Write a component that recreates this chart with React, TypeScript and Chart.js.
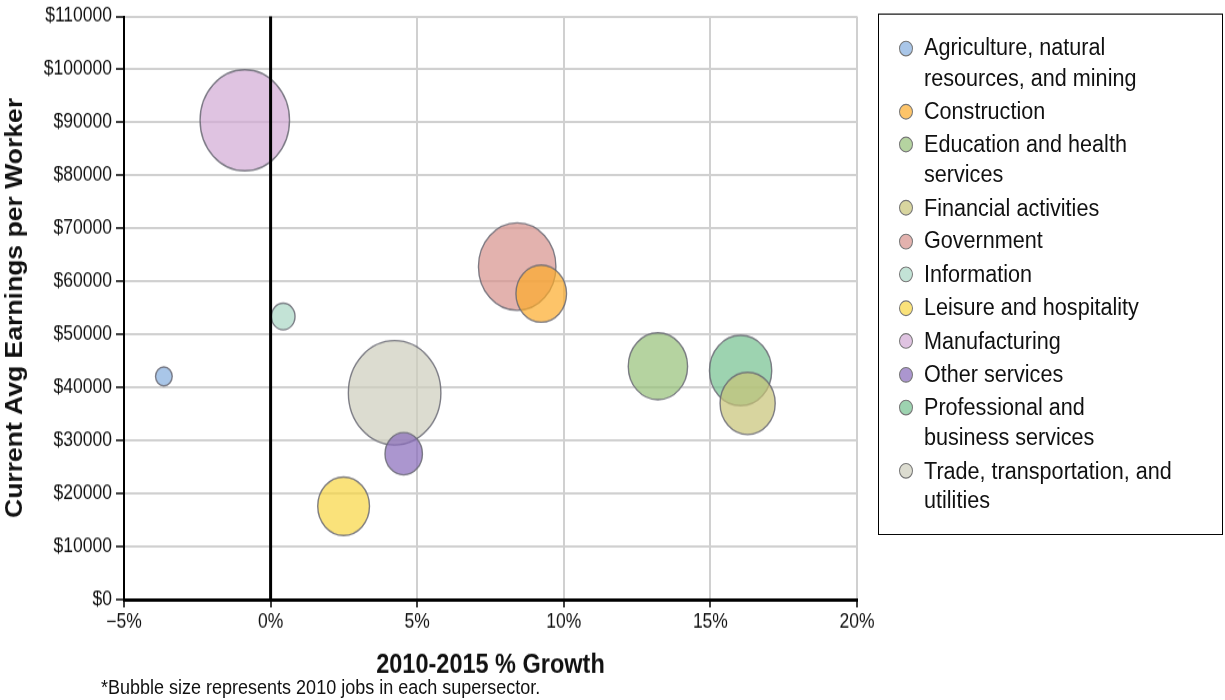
import React, { useEffect, useRef } from "react";
import { Chart, registerables } from "chart.js";

Chart.register(...registerables);

// ---- Data ----
const categories = [
  "Agriculture, natural\nresources, and mining",
  "Construction",
  "Education and health\nservices",
  "Financial activities",
  "Government",
  "Information",
  "Leisure and hospitality",
  "Manufacturing",
  "Other services",
  "Professional and\nbusiness services",
  "Trade, transportation, and\nutilities",
];
// 2010-2015 % growth
const growthPct = [-3.64, 9.23, 13.21, 16.27, 8.41, 0.43, 2.49, -0.88, 4.54, 16.03, 4.23];
// current average earnings per worker ($)
const avgEarnings = [42100, 57700, 44000, 37000, 62800, 53400, 17600, 90400, 27500, 43200, 39000];
// 2010 jobs (relative, thousands) -> bubble area
const jobs2010 = [7, 64, 88, 76, 150, 14, 67, 200, 35, 97, 214];

const baseColors = [
  "132,174,222",
  "252,171,42",
  "149,192,119",
  "199,195,118",
  "215,146,139",
  "169,215,196",
  "248,214,65",
  "209,169,212",
  "136,106,186",
  "116,192,142",
  "205,205,188",
];

const xMin = -5;
const xMax = 20;
const xStep = 5;
const yMin = 0;
const yMax = 110000;
const yStep = 10000;

const xTitle = "2010-2015 % Growth";
const yTitle = "Current Avg Earnings per Worker";
const footnote = "*Bubble size represents 2010 jobs in each supersector.";

const FONT = '"Liberation Sans", Arial, Helvetica, sans-serif';
const fill = (i: number) => `rgba(${baseColors[i]},0.7)`;

const zeroLinePlugin = {
  id: "zeroLine",
  afterDatasetsDraw(chart: any) {
    const { ctx, chartArea, scales } = chart;
    const x = scales.x.getPixelForValue(0);
    ctx.save();
    ctx.strokeStyle = "#000";
    ctx.lineWidth = 3;
    ctx.beginPath();
    ctx.moveTo(x, chartArea.top);
    ctx.lineTo(x, chartArea.bottom);
    ctx.stroke();
    ctx.restore();
  },
};

function BubbleChart() {
  const ref = useRef<HTMLCanvasElement | null>(null);
  useEffect(() => {
    if (!ref.current) return;
    const datasets = categories.map((c, i) => ({
      label: c.replace("\n", " "),
      data: [{ x: growthPct[i], y: avgEarnings[i], r: Math.sqrt(jobs2010[i] * 10) }],
      backgroundColor: fill(i),
      borderColor: "rgba(105,105,115,0.85)",
      borderWidth: 1.4,
    }));
    const chart = new Chart(ref.current, {
      type: "bubble",
      data: { datasets },
      options: {
        responsive: false,
        animation: false,
        devicePixelRatio: 1,
        events: [],
        layout: { autoPadding: false, padding: { top: 13, right: 23, left: 0, bottom: 0 } },
        plugins: { legend: { display: false }, tooltip: { enabled: false } },
        scales: {
          x: {
            type: "linear",
            min: xMin,
            max: xMax,
            ticks: {
              stepSize: xStep,
              color: "#111",
              padding: 3,
              maxRotation: 0,
              font: { family: FONT, size: 17.5 },
              callback: (v: any) => (v < 0 ? "\u2212" + Math.abs(v) : String(v)) + "%",
            },
            grid: {
              color: "#d0d0d0",
              lineWidth: 2,
              tickColor: "#000",
              tickLength: 7,
              tickWidth: 1.5,
            },
            border: { color: "#000", width: 3 },
            title: {
              display: true,
              text: xTitle,
              color: "#111",
              font: { family: FONT, size: 23.5, weight: "bold" },
              padding: { top: 0, bottom: 16.5 },
            },
            afterFit: (s: any) => {
              s.height = 89;
            },
          },
          y: {
            type: "linear",
            min: yMin,
            max: yMax,
            ticks: {
              stepSize: yStep,
              color: "#111",
              padding: 4,
              font: { family: FONT, size: 17.5 },
              callback: (v: any) => "$" + v,
            },
            grid: {
              color: "#d0d0d0",
              lineWidth: 2,
              tickColor: "#000",
              tickLength: 8,
              tickWidth: 1.5,
            },
            border: { color: "#000", width: 2 },
            title: {
              display: true,
              text: yTitle,
              color: "#111",
              font: { family: FONT, size: 23.5, weight: "bold" },
              padding: { top: 1, bottom: 0 },
            },
            afterFit: (s: any) => {
              s.width = 124;
            },
          },
        },
      } as any,
      plugins: [zeroLinePlugin],
    });
    return () => chart.destroy();
  }, []);
  return (
    <canvas
      ref={ref}
      width={880}
      height={620}
      style={{ position: "absolute", left: 0, top: 0, width: 880, height: 620 }}
    />
  );
}

export default function App() {
  return (
    <div
      style={{
        position: "absolute",
        left: 0,
        top: 0,
        width: 1225,
        height: 620,
        background: "#fff",
        transform: `scaleY(${700 / 620})`,
        transformOrigin: "0 0",
        fontFamily: FONT,
      }}
    >
      <BubbleChart />
      <div
        style={{
          position: "absolute",
          left: 101,
          top: 599,
          fontSize: 18,
          lineHeight: "20px",
          color: "#111",
          whiteSpace: "nowrap",
        }}
      >
        {footnote}
      </div>
      <div
        style={{
          position: "absolute",
          left: 878,
          top: 11.5,
          width: 345,
          height: 462.5,
          border: "1px solid #000",
          boxSizing: "border-box",
          paddingTop: 16.75,
          fontSize: 21.6,
          color: "#111",
        }}
      >
        {categories.map((c, i) => (
          <div
            key={i}
            style={{
              position: "relative",
              paddingLeft: 45,
              lineHeight: "26.5px",
              marginBottom: 3,
              whiteSpace: "pre-line",
            }}
          >
            <span
              style={{
                position: "absolute",
                left: 20,
                top: 6.25,
                width: 14,
                height: 14,
                borderRadius: "50%",
                background: fill(i),
                border: "1px solid #777",
                boxSizing: "border-box",
              }}
            />
            {c}
          </div>
        ))}
      </div>
    </div>
  );
}
